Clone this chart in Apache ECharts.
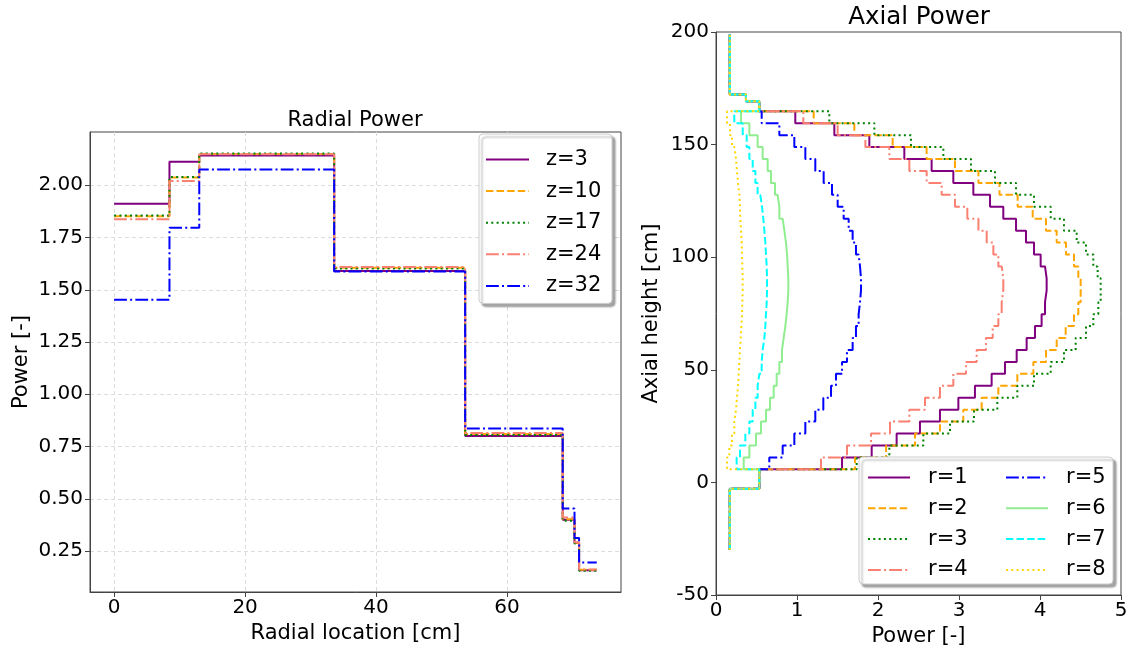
<!DOCTYPE html>
<html><head><meta charset="utf-8">
<script src="https://cdn.jsdelivr.net/npm/echarts@6/dist/echarts.min.js"></script>
<style>html,body{margin:0;padding:0;background:#fff}#c{width:1132px;height:652px}</style>
</head><body><div id="c"></div>
<script>
// ---------- Radial power (left) ----------
const radialEdges = [0, 8.45, 13.0, 33.6, 53.6, 68.5, 70.3, 71.0, 73.7];
const zNames = ['z=3', 'z=10', 'z=17', 'z=24', 'z=32'];
const z3  = [1.912, 2.113, 2.142, 1.590, 0.800, 0.400, 0.288, 0.158];
const z10 = [1.852, 2.037, 2.150, 1.605, 0.810, 0.402, 0.290, 0.160];
const z17 = [1.855, 2.040, 2.152, 1.602, 0.805, 0.395, 0.286, 0.156];
const z24 = [1.838, 2.021, 2.148, 1.609, 0.815, 0.410, 0.292, 0.162];
const z32 = [1.452, 1.797, 2.075, 1.588, 0.836, 0.453, 0.312, 0.195];
const radialXTicks = [0, 20, 40, 60];
const radialYTicks = [0.25, 0.50, 0.75, 1.00, 1.25, 1.50, 1.75, 2.00];

// ---------- Axial power (right) ----------
const axialEdges = [-30, -2.8, 5.8, 11.1, 16.4, 21.7, 27.0, 32.3, 37.6, 42.9, 48.2, 53.5, 58.8,
  64.1, 69.4, 74.7, 80.0, 85.3, 90.6, 95.9, 101.2, 106.5, 111.8, 117.1, 122.4, 127.7, 133.0,
  138.3, 143.6, 148.9, 154.2, 159.5, 164.8, 169.3, 172.3, 198.9];
const rNames = ['r=1', 'r=2', 'r=3', 'r=4', 'r=5', 'r=6', 'r=7', 'r=8'];
const r1 = [0.17, 0.535, 1.556, 1.922, 2.23, 2.518, 2.765, 2.992, 3.197, 3.403, 3.568, 3.712, 3.835, 3.938, 4.02, 4.062, 4.082, 4.082, 4.062, 4.008, 3.926, 3.827, 3.704, 3.547, 3.383, 3.177, 2.93, 2.662, 2.325, 1.893, 1.461, 0.979, 0.535, 0.37, 0.17];
const r2 = [0.17, 0.535, 1.716, 2.10, 2.457, 2.765, 3.053, 3.28, 3.486, 3.72, 3.918, 4.074, 4.206, 4.317, 4.42, 4.473, 4.502, 4.502, 4.473, 4.42, 4.321, 4.206, 4.074, 3.91, 3.724, 3.50, 3.24, 2.95, 2.60, 2.181, 1.708, 1.206, 0.535, 0.37, 0.17];
const r3 = [0.17, 0.535, 1.737, 2.14, 2.56, 2.889, 3.185, 3.473, 3.72, 3.926, 4.132, 4.296, 4.44, 4.568, 4.658, 4.72, 4.749, 4.749, 4.712, 4.658, 4.568, 4.453, 4.296, 4.132, 3.926, 3.704, 3.444, 3.148, 2.807, 2.407, 1.955, 1.399, 0.535, 0.37, 0.17];
const r4 = [0.17, 0.535, 1.296, 1.617, 1.914, 2.148, 2.387, 2.58, 2.765, 2.93, 3.086, 3.218, 3.333, 3.416, 3.486, 3.527, 3.547, 3.547, 3.527, 3.486, 3.424, 3.342, 3.24, 3.103, 2.951, 2.786, 2.601, 2.387, 2.14, 1.844, 1.502, 1.078, 0.535, 0.37, 0.17];
const r5 = [0.17, 0.535, 0.658, 0.823, 0.967, 1.103, 1.226, 1.325, 1.42, 1.481, 1.556, 1.617, 1.687, 1.728, 1.761, 1.778, 1.790, 1.790, 1.778, 1.761, 1.728, 1.687, 1.638, 1.576, 1.502, 1.432, 1.329, 1.226, 1.103, 0.967, 0.782, 0.564, 0.535, 0.37, 0.17];
const r6 = [0.17, 0.535, 0.342, 0.412, 0.494, 0.556, 0.617, 0.667, 0.712, 0.749, 0.782, 0.815, 0.835, 0.856, 0.872, 0.885, 0.893, 0.893, 0.885, 0.877, 0.864, 0.844, 0.823, 0.782, 0.761, 0.728, 0.679, 0.638, 0.576, 0.514, 0.412, 0.309, 0.535, 0.37, 0.17];
const r7 = [0.17, 0.535, 0.255, 0.296, 0.362, 0.412, 0.453, 0.486, 0.514, 0.535, 0.564, 0.576, 0.597, 0.609, 0.617, 0.626, 0.630, 0.630, 0.626, 0.617, 0.609, 0.597, 0.584, 0.568, 0.547, 0.514, 0.486, 0.453, 0.412, 0.379, 0.33, 0.226, 0.535, 0.37, 0.17];
const r8 = [0.17, 0.535, 0.136, 0.165, 0.198, 0.226, 0.247, 0.259, 0.272, 0.28, 0.288, 0.296, 0.305, 0.313, 0.321, 0.325, 0.329, 0.329, 0.325, 0.321, 0.317, 0.309, 0.300, 0.296, 0.288, 0.272, 0.259, 0.247, 0.226, 0.198, 0.173, 0.136, 0.535, 0.37, 0.17];

// ---------- styles ----------
const FONT = 'DejaVu Sans';
const DASH = [7.4, 3.2], DOT = [2, 3.3], DASHDOT = [12.8, 3.2, 2, 3.2];
const zStyles = [
  {color: '#800080', type: 'solid'},
  {color: '#FFA500', type: DASH},
  {color: '#008000', type: DOT},
  {color: '#FA8072', type: DASHDOT},
  {color: '#0000FF', type: DASHDOT}
];
const rStyles = [
  {color: '#800080', type: 'solid'},
  {color: '#FFA500', type: DASH},
  {color: '#008000', type: DOT},
  {color: '#FA8072', type: DASHDOT},
  {color: '#0000FF', type: DASHDOT},
  {color: '#90EE90', type: 'solid'},
  {color: '#00FFFF', type: DASH},
  {color: '#FFD700', type: DOT}
];

function radialSteps(vals) {
  const pts = [];
  for (let i = 0; i < vals.length; i++) {
    pts.push([radialEdges[i], vals[i]]);
    pts.push([radialEdges[i + 1], vals[i]]);
  }
  return pts;
}
function axialSteps(vals) {
  const pts = [];
  for (let i = 0; i < vals.length; i++) {
    pts.push([vals[i], axialEdges[i]]);
    pts.push([vals[i], axialEdges[i + 1]]);
  }
  return pts;
}

const zData = [z3, z10, z17, z24, z32];
const rData = [r1, r2, r3, r4, r5, r6, r7, r8];
const series = [];
zData.forEach((v, i) => series.push({
  name: zNames[i], type: 'line', xAxisIndex: 0, yAxisIndex: 0, symbol: 'none',
  data: radialSteps(v), animation: false, z: 2,
  itemStyle: {color: zStyles[i].color},
  lineStyle: {color: zStyles[i].color, width: 2, type: zStyles[i].type, cap: 'butt'}
}));
rData.forEach((v, i) => series.push({
  name: rNames[i], type: 'line', xAxisIndex: 1, yAxisIndex: 1, symbol: 'none',
  data: axialSteps(v), animation: false, z: 2,
  itemStyle: {color: rStyles[i].color},
  lineStyle: {color: rStyles[i].color, width: 2, type: rStyles[i].type, cap: 'butt'}
}));

const tickLabel = {fontFamily: FONT, fontSize: 20, color: '#000'};
const nameStyle = {fontFamily: FONT, fontSize: 21, color: '#000'};
const gridLine = {show: true, lineStyle: {color: '#dcdcdc', type: [4, 3], width: 1}};
const legendItem = {color: 'rgba(0,0,0,0)', borderColor: 'rgba(0,0,0,0)', borderWidth: 0, opacity: 0};
const legendText = {fontFamily: FONT, fontSize: 21, color: '#000', lineHeight: 21, padding: [0, 0, 0, 12]};

const chart = echarts.init(document.getElementById('c'), null, {renderer: 'canvas'});
chart.setOption({
  backgroundColor: '#fff',
  animation: false,
  title: [
    {text: 'Radial Power', left: 350, top: 105, textAlign: 'center',
     textStyle: {fontFamily: FONT, fontSize: 21, fontWeight: 'normal', color: '#000'}},
    {text: 'Axial Power', left: 914, top: 0, textAlign: 'center',
     textStyle: {fontFamily: FONT, fontSize: 24.5, fontWeight: 'normal', color: '#000'}}
  ],
  grid: [
    {left: 90, top: 132, width: 531, height: 460, show: true, borderColor: '#444', borderWidth: 1, backgroundColor: 'transparent'},
    {left: 716, top: 32, width: 405, height: 563, show: true, borderColor: '#444', borderWidth: 1, backgroundColor: 'transparent'}
  ],
  xAxis: [
    {type: 'value', gridIndex: 0, min: -3.685, max: 77.4,
     name: 'Radial location [cm]', nameLocation: 'middle', nameGap: 30, nameTextStyle: nameStyle,
     axisLine: {show: true, onZero: false, lineStyle: {color: '#444'}},
     axisTick: {show: true, inside: false, length: 5, customValues: radialXTicks, lineStyle: {color: '#444'}},
     axisLabel: {customValues: radialXTicks, margin: 6, ...tickLabel},
     splitLine: gridLine},
    {type: 'value', gridIndex: 1, min: 0, max: 5, interval: 1,
     name: 'Power [-]', nameLocation: 'middle', nameGap: 27, nameTextStyle: nameStyle,
     axisLine: {show: true, onZero: false, lineStyle: {color: '#444'}},
     axisTick: {show: true, inside: false, length: 5, lineStyle: {color: '#444'}},
     axisLabel: {margin: 6, ...tickLabel},
     splitLine: {show: false}}
  ],
  yAxis: [
    {type: 'value', gridIndex: 0, min: 0.054, max: 2.255,
     name: 'Power [-]', nameLocation: 'middle', nameGap: 58, nameTextStyle: nameStyle,
     axisLine: {show: true, onZero: false, lineStyle: {color: '#444'}},
     axisTick: {show: true, inside: false, length: 5, customValues: radialYTicks, lineStyle: {color: '#444'}},
     axisLabel: {customValues: radialYTicks, margin: 7, formatter: v => v.toFixed(2), ...tickLabel},
     splitLine: gridLine},
    {type: 'value', gridIndex: 1, min: -50, max: 200, interval: 50,
     name: 'Axial height [cm]', nameLocation: 'middle', nameGap: 54, nameTextStyle: nameStyle,
     axisLine: {show: true, onZero: false, lineStyle: {color: '#444'}},
     axisTick: {show: true, inside: false, length: 5, lineStyle: {color: '#444'}},
     axisLabel: {margin: 7, ...tickLabel},
     splitLine: {show: false}}
  ],
  legend: [
    {data: zNames, orient: 'vertical', left: 479, top: 134, itemWidth: 43, itemHeight: 14, itemGap: 10.6,
     padding: [15, 8, 7, 6], backgroundColor: '#fff', borderColor: '#ccc', borderWidth: 1, borderRadius: 4,
     shadowColor: 'rgba(0,0,0,0.35)', shadowBlur: 2, shadowOffsetX: 3, shadowOffsetY: 3,
     selectedMode: false, itemStyle: legendItem,
     textStyle: {...legendText, width: 58}},
    {data: rNames.slice(0, 4), orient: 'vertical', left: 860, top: 462, itemWidth: 42, itemHeight: 14, itemGap: 9.8,
     padding: [5, 8, 8, 7], selectedMode: false, itemStyle: legendItem,
     textStyle: {...legendText, padding: [0, 0, 0, 13]}},
    {data: rNames.slice(4), orient: 'vertical', left: 998, top: 462, itemWidth: 42, itemHeight: 14, itemGap: 9.8,
     padding: [5, 8, 8, 7], selectedMode: false, itemStyle: legendItem,
     textStyle: {...legendText, padding: [0, 0, 0, 13]}}
  ],
  graphic: [
    {type: 'rect', z: 3, shape: {x: 859, y: 457, width: 254, height: 127, r: 4},
     style: {fill: '#fff', stroke: '#ccc', lineWidth: 1,
             shadowColor: 'rgba(0,0,0,0.35)', shadowBlur: 2, shadowOffsetX: 3, shadowOffsetY: 3}}
  ],
  series: series
});
</script>
</body></html>
